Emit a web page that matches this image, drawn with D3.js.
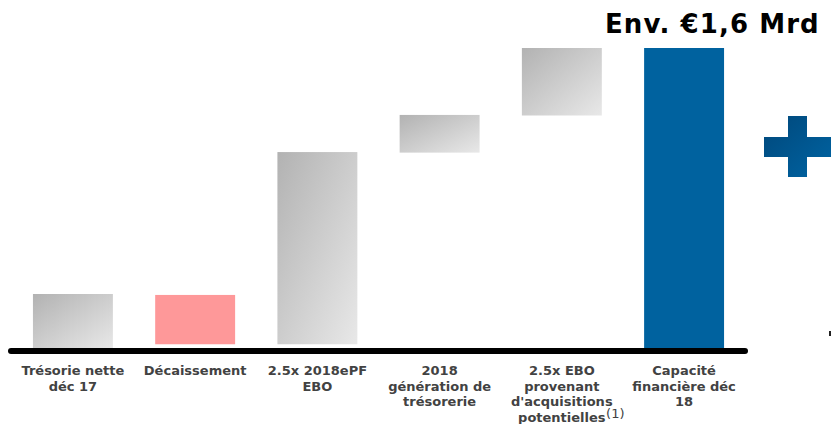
<!DOCTYPE html>
<html><head><meta charset="utf-8">
<script src="https://cdn.jsdelivr.net/npm/d3@7"></script>
<style>html,body{margin:0;padding:0;background:#fff;}svg{display:block;}</style>
</head><body>
<svg id="c" width="831" height="424"></svg>
<script>
const categories = ["Trésorie nette\ndéc 17", "Décaissement", "2.5x 2018ePF\nEBO", "2018\ngénération de\ntrésorerie", "2.5x EBO\nprovenant\nd'acquisitions\npotentielles", "Capacité\nfinancière déc\n18"];
const barStart = [0, 0.02, 0.02, 1.042, 1.24, 0];
const barEnd   = [0.288, 0.283, 1.045, 1.243, 1.6, 1.6];
const barKind  = ["gray", "pink", "gray", "gray", "gray", "blue"];
const footnotes = ["", "", "", "", "(1)", ""];
const titleText = "Env. €1,6 Mrd";

const svg = d3.select("#c");
const defs = svg.append("defs");
const g1 = defs.append("linearGradient").attr("id","grayG").attr("x1","0").attr("y1","0").attr("x2","1").attr("y2","1");
g1.append("stop").attr("offset","0").attr("stop-color","#b2b2b2");
g1.append("stop").attr("offset","1").attr("stop-color","#e8e8e8");
const g2 = defs.append("linearGradient").attr("id","plusG").attr("x1","0").attr("y1","0").attr("x2","1").attr("y2","1");
g2.append("stop").attr("offset","0").attr("stop-color","#00477a");
g2.append("stop").attr("offset","1").attr("stop-color","#0064a3");

const x = d3.scaleBand().domain(categories).range([11.8, 745.2]).paddingInner(0.346).paddingOuter(0.173);
const y = d3.scaleLinear().domain([0, 1.6]).range([348, 48]);
const fills = {gray: "url(#grayG)", pink: "#fe9899", blue: "#00629f"};

svg.append("g").selectAll("rect").data(categories).join("rect")
  .attr("x", d => x(d))
  .attr("width", x.bandwidth())
  .attr("y", (d,i) => y(barEnd[i]))
  .attr("height", (d,i) => y(barStart[i]) - y(barEnd[i]))
  .attr("fill", (d,i) => fills[barKind[i]]);

// baseline axis
svg.append("line").attr("x1", 11).attr("x2", 745).attr("y1", y(0)+3).attr("y2", y(0)+3)
  .attr("stroke", "#000").attr("stroke-width", 6).attr("stroke-linecap", "round");

// category labels
const lab = svg.append("g").attr("font-family", "DejaVu Sans, Verdana, sans-serif")
  .attr("font-size", 13).attr("font-weight", "bold").attr("fill", "#424242").attr("text-anchor", "middle");
categories.forEach((c, i) => {
  const cx = x(c) + x.bandwidth()/2;
  const lines = c.split("\n");
  let lastNode = null, lastY = 0;
  lines.forEach((ln, k) => {
    lastY = 375 + k*15.5;
    lastNode = lab.append("text").attr("x", cx).attr("y", lastY).text(ln);
  });
  if (footnotes[i]) {
    const w = lastNode.node().getComputedTextLength();
    svg.append("text").attr("x", cx + w/2 + 0.5).attr("y", lastY - 4)
      .attr("font-family", "DejaVu Sans, Verdana, sans-serif").attr("font-size", 13)
      .attr("fill", "#424242").text(footnotes[i]);
  }
});

// title
svg.append("text").attr("x", 605).attr("y", 33)
  .attr("font-family", "DejaVu Sans, Verdana, sans-serif").attr("font-size", 26)
  .attr("font-weight", "bold").attr("fill", "#000").attr("letter-spacing", 1.1).text(titleText);

// plus sign
const plus = svg.append("g").attr("fill", "url(#plusG)");
plus.append("path").attr("d", "M788,116H807V137H831V157H807V177H788V157H764V137H788Z");
svg.append("rect").attr("x", 829).attr("y", 331).attr("width", 2).attr("height", 5).attr("fill", "#222");
</script>
</body></html>
